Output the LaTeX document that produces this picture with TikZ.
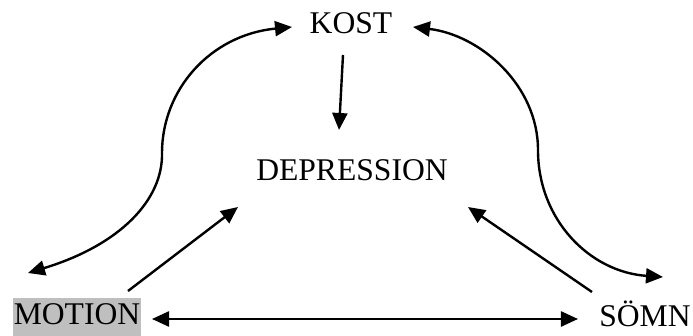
\documentclass[tikz,border=0pt]{standalone}
\usepackage{fontspec}
\setmainfont{Liberation Serif}
\usepackage{xcolor}
\usepackage{tikz}
\usetikzlibrary{arrows.meta}
\definecolor{hlgrey}{RGB}{191,191,191}

\begin{document}
\begin{tikzpicture}[
  x=0.5pt, y=-0.5pt,
  word/.style={
    inner sep=0pt, anchor=base,
    font=\fontsize{15.8}{19}\selectfont
  },
  marked/.style={
    word, fill=hlgrey,
    inner xsep=0.5pt,
    text height=13.5pt, text depth=5.5pt
  },
  arr/.style={-{Triangle[length=8.5pt,width=7.5pt]}, line width=1.2pt},
  dblarr/.style={{Triangle[length=8.5pt,width=7.5pt]}-{Triangle[length=8.5pt,width=7.5pt]}, line width=1.2pt}
]
\useasboundingbox (0,0) rectangle (693,336);

\node[word]   (kost)       at (351,34)   {KOST};
\node[word]   (depression) at (352,181)  {DEPRESSION};
\node[marked] (motion)     at (77,325)   {MOTION};
\node[word]   (somn)       at (645,327)  {SÖMN};

\coordinate (lbend) at (162,153);
\coordinate (rbend) at (538,150);

\draw[arr] ([shift={(-8,21)}]kost.base) -- ([shift={(-13,-51)}]depression.base);
\draw[arr] ([shift={(51,-34)}]motion.base) -- ([shift={(-114,26)}]depression.base);
\draw[arr] ([shift={(-53,-35)}]somn.base) -- ([shift={(116,26)}]depression.base);
\draw[dblarr] ([shift={(75,-6)}]motion.base) -- ([shift={(-67,-8)}]somn.base);

\draw[dblarr] ([shift={(-49,-52)}]motion.base)
  .. controls +(92,-28) and +(1,47) .. (lbend)
  .. controls +(0,-63) and +(-82,8) .. ([shift={(-59,-7)}]kost.base);
\draw[dblarr] ([shift={(62,-7)}]kost.base)
  .. controls +(67,8) and +(0,-65) .. (rbend)
  .. controls +(0,70) and +(-73,-5) .. ([shift={(18,-50)}]somn.base);

\end{tikzpicture}
\end{document}
